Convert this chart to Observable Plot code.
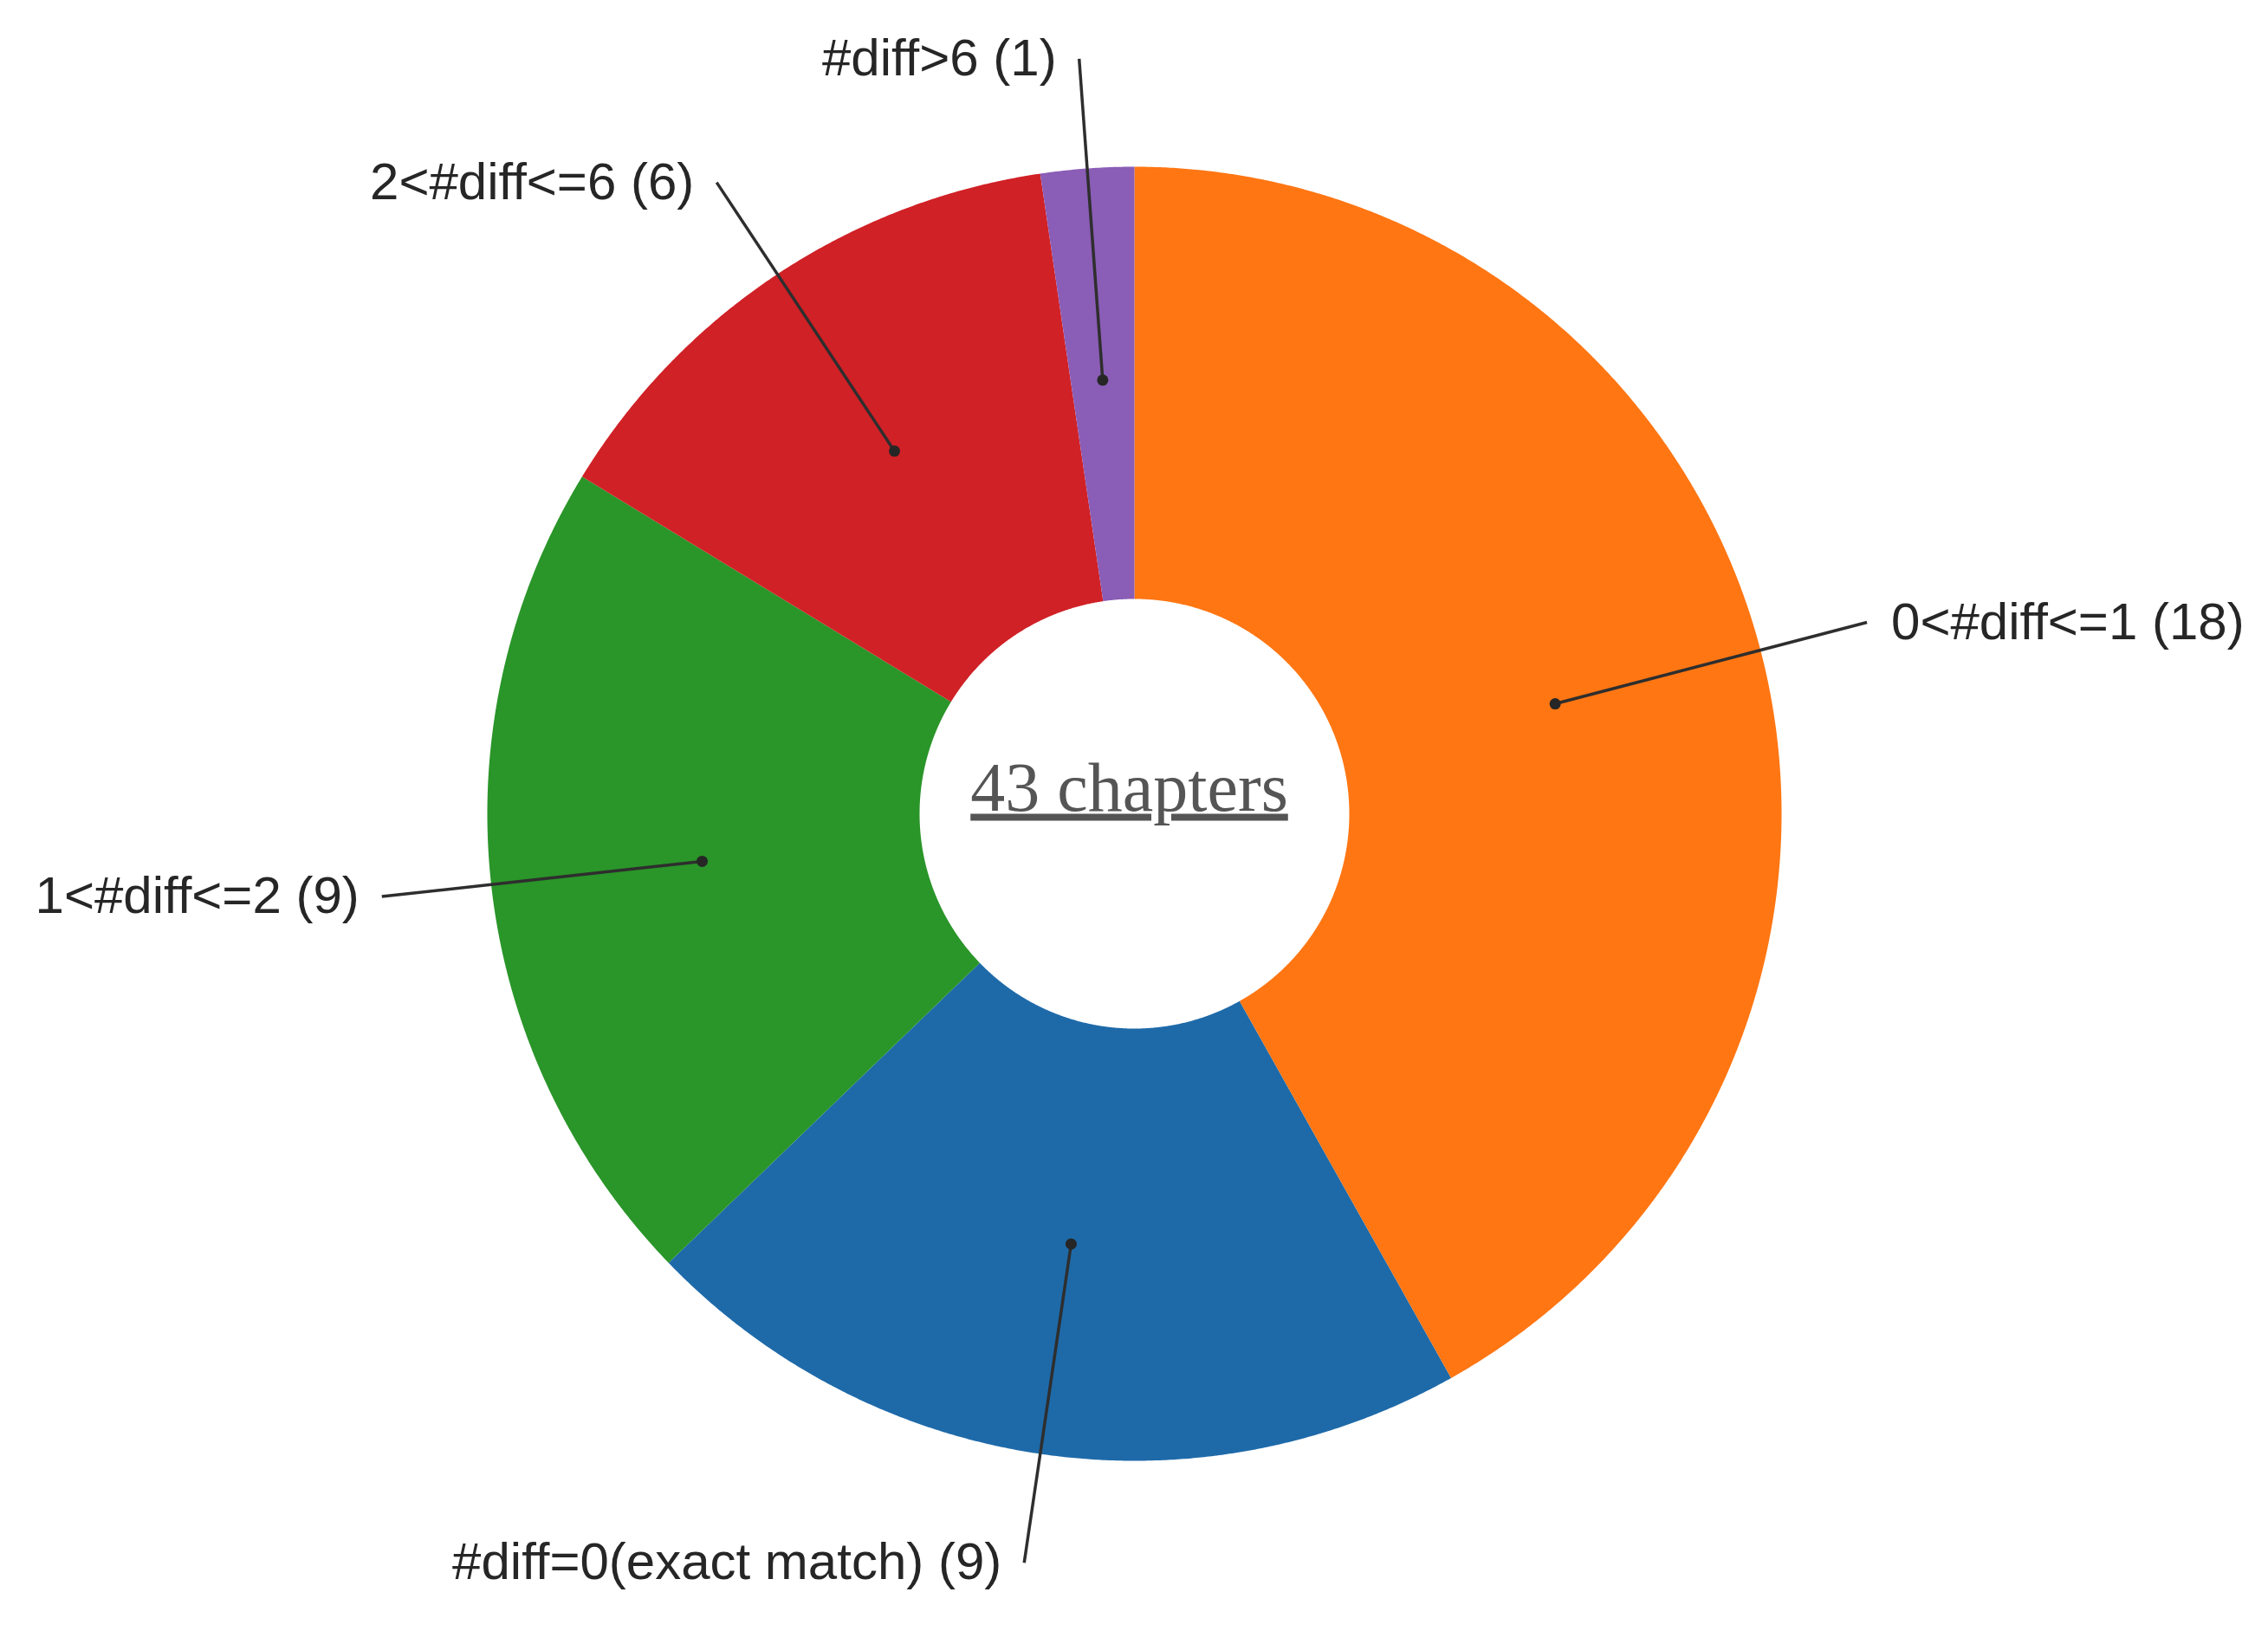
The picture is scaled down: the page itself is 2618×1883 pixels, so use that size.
<!DOCTYPE html>
<html>
<head>
<meta charset="utf-8">
<script src="https://cdn.jsdelivr.net/npm/d3@7"></script>
<script src="https://cdn.jsdelivr.net/npm/@observablehq/plot@0.6"></script>
<style>
  html, body { margin: 0; padding: 0; background: #ffffff; }
  #chart svg { display: block; }
</style>
</head>
<body>
<div id="chart"></div>
<script>
// ---- data ----
const categories = ["#diff=0(exact match)", "0<#diff<=1", "1<#diff<=2", "2<#diff<=6", "#diff>6"];
const values = [9, 18, 9, 6, 1];
const colors = ["#1e6aa9", "#ff7613", "#2a9529", "#d02126", "#8a5db6"];
const centerLabel = "43 chapters";

// ---- geometry (unit = outer radius) ----
const W = 2618, H = 1883, CX = 1309, CY = 939, R = 747;
const INNER = 0.332, DOT_R = 0.672, LABEL_R = 1.17;

const table = categories.map((c, i) => ({category: c, value: values[i]}));
const arcs = d3.pie().value(d => d.value)(table);

const ring = arcs.flatMap(a => {
  const span = a.endAngle - a.startAngle;
  const n = Math.max(2, Math.ceil(span / 0.004));
  const pts = [];
  for (let k = 0; k <= n; k++) {
    const t = a.startAngle + span * k / n;
    pts.push({category: a.data.category, x: Math.sin(t), y: Math.cos(t)});
  }
  for (let k = n; k >= 0; k--) {
    const t = a.startAngle + span * k / n;
    pts.push({category: a.data.category, x: INNER * Math.sin(t), y: INNER * Math.cos(t)});
  }
  return pts;
});

const labels = arcs.map(a => {
  const m = (a.startAngle + a.endAngle) / 2;
  return {
    category: a.data.category,
    text: `${a.data.category} (${a.data.value})`,
    x1: DOT_R * Math.sin(m), y1: DOT_R * Math.cos(m),
    x2: LABEL_R * Math.sin(m), y2: LABEL_R * Math.cos(m),
    right: Math.sin(m) > 0
  };
});

const labelFont = "'Liberation Sans', Arial, Helvetica, sans-serif";

const chart = Plot.plot({
  width: W,
  height: H,
  margin: 0,
  style: {background: "#ffffff", fontFamily: labelFont},
  x: {domain: [-CX / R, (W - CX) / R], range: [0, W], axis: null},
  y: {domain: [(CY - H) / R, CY / R], range: [H, 0], axis: null},
  color: {domain: categories, range: colors},
  marks: [
    Plot.line(ring, {x: "x", y: "y", z: "category", fill: "category", stroke: "none", curve: "linear"}),
    Plot.link(labels, {x1: "x1", y1: "y1", x2: "x2", y2: "y2", stroke: "#2e2e2e", strokeWidth: 3.5}),
    Plot.dot(labels, {x: "x1", y: "y1", r: 6.5, fill: "#262626", stroke: "none"}),
    Plot.text(labels.filter(d => d.right), {x: "x2", y: "y2", text: "text", textAnchor: "start", dx: 28,
      fontSize: 60, fill: "#262626", fontFamily: labelFont}),
    Plot.text(labels.filter(d => !d.right), {x: "x2", y: "y2", text: "text", textAnchor: "end", dx: -26,
      fontSize: 60, fill: "#262626", fontFamily: labelFont}),
    Plot.text([centerLabel], {x: () => 0, y: () => 0, text: d => d, textAnchor: "middle", lineAnchor: "bottom",
      dx: -6, dy: -4, fontSize: 80, fill: "#555555",
      fontFamily: "'Liberation Serif', 'Times New Roman', Times, serif"})
  ]
});

d3.select(chart).selectAll("text")
  .filter(function() { return this.textContent === centerLabel; })
  .attr("text-decoration", "underline");

document.getElementById("chart").appendChild(chart);
</script>
</body>
</html>
